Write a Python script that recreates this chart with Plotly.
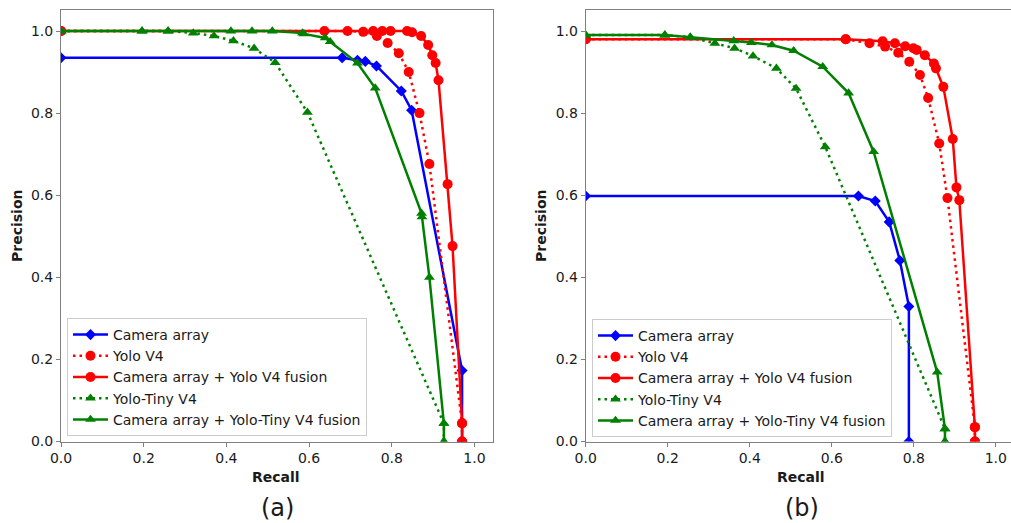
import plotly.graph_objects as go

# ---------------- data: panel (a) ----------------
a_cam_recall = [0.0, 0.68, 0.717, 0.736, 0.763, 0.823, 0.848, 0.970, 0.970]
a_cam_prec = [0.935, 0.935, 0.929, 0.926, 0.915, 0.854, 0.807, 0.173, 0.0]

a_yolo_recall = [0.0, 0.693, 0.731, 0.764, 0.790, 0.817, 0.841, 0.867, 0.891, 0.970, 0.970]
a_yolo_prec = [1.0, 1.0, 0.998, 0.988, 0.971, 0.946, 0.900, 0.800, 0.676, 0.044, 0.0]

a_camyolo_recall = [0.0, 0.637, 0.755, 0.777, 0.797, 0.837, 0.849, 0.871, 0.888, 0.898,
                    0.906, 0.913, 0.935, 0.947, 0.970, 0.970]
a_camyolo_prec = [1.0, 1.0, 1.0, 1.0, 1.0, 1.0, 0.997, 0.988, 0.966, 0.941,
                  0.922, 0.880, 0.627, 0.476, 0.045, 0.0]

a_tiny_recall = [0.0, 0.196, 0.259, 0.320, 0.370, 0.417, 0.467, 0.518, 0.596, 0.926, 0.926]
a_tiny_prec = [1.0, 1.0, 1.0, 0.995, 0.988, 0.976, 0.958, 0.923, 0.802, 0.044, 0.0]

a_camtiny_recall = [0.0, 0.196, 0.259, 0.411, 0.462, 0.511, 0.584, 0.588, 0.639, 0.651,
                    0.717, 0.760, 0.872, 0.873, 0.891, 0.926, 0.926]
a_camtiny_prec = [1.0, 1.0, 1.0, 1.0, 1.0, 1.0, 0.995, 0.993, 0.983, 0.974,
                  0.922, 0.861, 0.556, 0.547, 0.400, 0.044, 0.0]

# ---------------- data: panel (b) ----------------
b_cam_recall = [0.0, 0.665, 0.706, 0.740, 0.766, 0.788, 0.788]
b_cam_prec = [0.598, 0.598, 0.586, 0.535, 0.441, 0.329, 0.0]

b_yolo_recall = [0.0, 0.634, 0.692, 0.730, 0.762, 0.789, 0.815, 0.835, 0.862, 0.882, 0.949, 0.949]
b_yolo_prec = [0.98, 0.98, 0.970, 0.962, 0.947, 0.925, 0.893, 0.837, 0.726, 0.593, 0.035, 0.0]

b_camyolo_recall = [0.0, 0.634, 0.724, 0.754, 0.779, 0.799, 0.807, 0.827, 0.849, 0.854,
                    0.872, 0.895, 0.904, 0.911, 0.949, 0.949]
b_camyolo_prec = [0.98, 0.98, 0.975, 0.970, 0.963, 0.958, 0.954, 0.941, 0.921, 0.909,
                  0.864, 0.737, 0.619, 0.588, 0.035, 0.0]

b_tiny_recall = [0.0, 0.193, 0.255, 0.315, 0.363, 0.408, 0.465, 0.513, 0.584, 0.876, 0.876]
b_tiny_prec = [0.99, 0.99, 0.985, 0.970, 0.958, 0.939, 0.909, 0.860, 0.718, 0.031, 0.0]

b_camtiny_recall = [0.0, 0.193, 0.255, 0.361, 0.404, 0.454, 0.507, 0.578, 0.641, 0.702,
                    0.857, 0.876, 0.876]
b_camtiny_prec = [0.99, 0.99, 0.985, 0.976, 0.972, 0.966, 0.952, 0.913, 0.849, 0.706,
                  0.169, 0.031, 0.0]

series_names = ["Camera array", "Yolo V4", "Camera array + Yolo V4 fusion",
                "Yolo-Tiny V4", "Camera array + Yolo-Tiny V4 fusion"]
tick_vals = [0.0, 0.2, 0.4, 0.6, 0.8, 1.0]
tick_text = ["0.0", "0.2", "0.4", "0.6", "0.8", "1.0"]

FONT = "DejaVu Sans"
DOT = "2.5px,4px"
styles = [
    dict(color="#0000ff", symbol="diamond", size=8.5, dash="solid"),
    dict(color="#ff0000", symbol="circle", size=10, dash=DOT),
    dict(color="#ff0000", symbol="circle", size=10, dash="solid"),
    dict(color="#008000", symbol="triangle-up", size=9.5, dash=DOT),
    dict(color="#008000", symbol="triangle-up", size=9.5, dash="solid"),
]

panels = [
    ("x", "y", "legend", [(a_cam_recall, a_cam_prec), (a_yolo_recall, a_yolo_prec),
                          (a_camyolo_recall, a_camyolo_prec), (a_tiny_recall, a_tiny_prec),
                          (a_camtiny_recall, a_camtiny_prec)]),
    ("x2", "y2", "legend2", [(b_cam_recall, b_cam_prec), (b_yolo_recall, b_yolo_prec),
                             (b_camyolo_recall, b_camyolo_prec), (b_tiny_recall, b_tiny_prec),
                             (b_camtiny_recall, b_camtiny_prec)]),
]

fig = go.Figure()
for xa, ya, leg, data in panels:
    for name, st, (rx, py) in zip(series_names, styles, data):
        fig.add_trace(go.Scatter(
            x=rx, y=py, name=name, mode="lines+markers",
            xaxis=xa, yaxis=ya, legend=leg,
            line=dict(color=st["color"], width=2.5, dash=st["dash"]),
            marker=dict(color=st["color"], symbol=st["symbol"], size=st["size"],
                        line=dict(width=0)),
        ))

y_dom = [(523 - 441.5) / 523, 1 - 10 / 523]
axis_common = dict(showgrid=False, zeroline=False, showline=True, linecolor="#808080",
                   linewidth=1, ticks="outside", ticklen=4, tickcolor="#808080",
                   tickvals=tick_vals, ticktext=tick_text, automargin=False,
                   tickfont=dict(family=FONT, size=14, color="#1a1a1a"))

legend_common = dict(bgcolor="rgba(255,255,255,0.85)", bordercolor="#cccccc", borderwidth=1,
                     font=dict(family=FONT, size=14, color="#1a1a1a"),
                     xanchor="left", yanchor="top", itemwidth=35, tracegroupgap=0)

fig.update_layout(
    width=1011, height=523,
    margin=dict(l=0, r=0, t=0, b=0, autoexpand=False),
    paper_bgcolor="white", plot_bgcolor="white",
    font=dict(family=FONT, size=14, color="#1a1a1a"),
    xaxis=dict(domain=[61 / 1011, 492.5 / 1011], range=[0, 1.0436], anchor="y",
               mirror=True, **axis_common),
    yaxis=dict(domain=y_dom, range=[0, 1.0512], anchor="x", mirror=True, **axis_common),
    xaxis2=dict(domain=[585.7 / 1011, 1.0], range=[0, 1.037], anchor="y2",
                mirror=True, **axis_common),
    yaxis2=dict(domain=y_dom, range=[0, 1.0512], anchor="x2", mirror=False, **axis_common),
    legend=dict(x=67 / 1011, y=1 - 318 / 523, **legend_common),
    legend2=dict(x=592 / 1011, y=1 - 319 / 523, **legend_common),
    showlegend=True,
)

annots = [
    dict(text="<b>Precision</b>", x=17 / 1011, y=1 - 226 / 523, textangle=-90, size=14),
    dict(text="<b>Precision</b>", x=541 / 1011, y=1 - 226 / 523, textangle=-90, size=14),
    dict(text="<b>Recall</b>", x=276 / 1011, y=1 - 477 / 523, textangle=0, size=14),
    dict(text="<b>Recall</b>", x=801 / 1011, y=1 - 477 / 523, textangle=0, size=14),
    dict(text="(a)", x=277 / 1011, y=1 - 508 / 523, textangle=0, size=24),
    dict(text="(b)", x=802 / 1011, y=1 - 508 / 523, textangle=0, size=24),
]
for an in annots:
    fig.add_annotation(text=an["text"], x=an["x"], y=an["y"], xref="paper", yref="paper",
                       showarrow=False, textangle=an["textangle"], xanchor="center",
                       yanchor="middle",
                       font=dict(family=FONT, size=an["size"], color="#1a1a1a"))

fig.write_html(
    "out.html",
    config={"displayModeBar": False},
    post_script="document.body.style.margin='0';document.body.style.overflow='hidden';",
)
